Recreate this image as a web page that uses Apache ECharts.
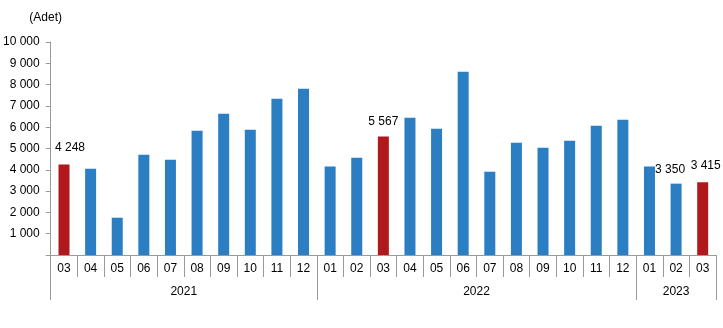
<!DOCTYPE html>
<html>
<head>
<meta charset="utf-8">
<script src="https://cdn.jsdelivr.net/npm/echarts@6/dist/echarts.min.js"></script>
<style>
html,body{margin:0;padding:0;background:#fff;}
#c{width:723px;height:328px;}
</style>
</head>
<body>
<div id="c"></div>
<script>
const months = ['03','04','05','06','07','08','09','10','11','12',
                '01','02','03','04','05','06','07','08','09','10','11','12',
                '01','02','03'];
const years = ['2021','2022','2023'];
const yearCounts = [10, 12, 3];
const values = [4248,4050,1750,4710,4470,5830,6630,5880,7340,7810,
                4150,4570,5567,6440,5930,8600,3910,5270,5040,5360,6070,6350,
                4150,3350,3415];
const highlighted = [0, 12, 24];
const labelled = [0, 12, 23, 24];
const yTicks = [0,1000,2000,3000,4000,5000,6000,7000,8000,9000,10000];

const BLUE = '#2b7ec2';
const RED = '#b0181b';
const FONT = "'Liberation Sans', Arial, sans-serif";

function fmt(v){ return String(v).replace(/\B(?=(\d{3})+(?!\d))/g, ' '); }

const bounds = [0];
yearCounts.forEach(c => bounds.push(bounds[bounds.length-1] + c));
const centers = years.map((y,i) => (bounds[i] + bounds[i+1]) / 2);

const labelOffsets = {0:[6,-2], 23:[-6,1], 24:[3,-2]};

const data = values.map((v,i) => {
  const item = {value: v, itemStyle: {color: highlighted.includes(i) ? RED : BLUE}};
  if (labelled.includes(i)) {
    item.label = {show: true, position: 'top', distance: 9, formatter: p => fmt(p.value),
                  color: '#000', fontSize: 12, fontFamily: FONT,
                  offset: labelOffsets[i] || [0,0]};
  }
  return item;
});

const chart = echarts.init(document.getElementById('c'), null, {renderer: 'canvas'});
chart.setOption({
  animation: false,
  backgroundColor: '#fff',
  textStyle: {fontFamily: FONT},
  grid: {left: 49, right: 7, top: 42, bottom: 73, containLabel: false},
  xAxis: [
    {
      type: 'category',
      data: months,
      position: 'bottom',
      boundaryGap: true,
      axisLine: {show: true, lineStyle: {color: '#9a9a9a', width: 1}},
      axisTick: {show: true, interval: 0, alignWithLabel: false, length: 22, lineStyle: {color: '#9a9a9a'}},
      axisLabel: {interval: 0, margin: 8, color: '#000', fontSize: 12, fontFamily: FONT},
      splitLine: {show: false}
    },
    {
      type: 'value',
      min: 0,
      max: bounds[bounds.length-1],
      position: 'bottom',
      axisLine: {show: false},
      axisTick: {show: true, customValues: bounds, length: 45, lineStyle: {color: '#9a9a9a'}},
      axisLabel: {show: true, customValues: centers, margin: 31, color: '#000', fontSize: 12, fontFamily: FONT,
                  formatter: v => { const i = centers.indexOf(v); return i >= 0 ? years[i] : ''; }},
      splitLine: {show: false}
    }
  ],
  yAxis: {
    type: 'value',
    min: yTicks[0],
    max: yTicks[yTicks.length-1],
    interval: 1000,
    name: '(Adet)',
    nameLocation: 'end',
    nameGap: 18,
    nameTextStyle: {color: '#000', fontSize: 12, fontFamily: FONT, align: 'center', padding: [0, 10, 0, 0]},
    axisLine: {show: true, lineStyle: {color: '#9a9a9a'}},
    axisTick: {show: true, inside: false, length: 5, lineStyle: {color: '#9a9a9a'}},
    axisLabel: {margin: 11, color: '#000', fontSize: 12, fontFamily: FONT,
                formatter: v => v === 0 ? '' : fmt(v)},
    splitLine: {show: false}
  },
  series: [{
    type: 'bar',
    xAxisIndex: 0,
    data: data,
    barWidth: 11,
    label: {show: false}
  }]
});
</script>
</body>
</html>
